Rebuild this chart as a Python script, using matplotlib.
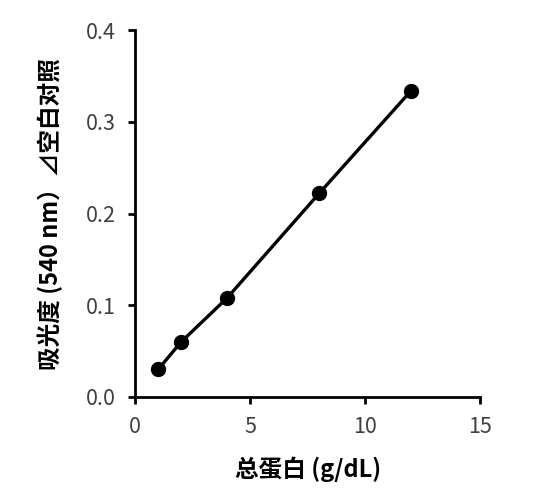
import matplotlib
matplotlib.use('Agg')
import matplotlib.pyplot as plt

plt.rcParams['font.family'] = ['Noto Sans CJK SC', 'DejaVu Sans']

# total protein (g/dL) vs absorbance
protein = [1, 2, 4, 8, 12]
absorbance = [0.030, 0.060, 0.108, 0.222, 0.334]
x_ticks = [0, 5, 10, 15]
y_ticks = [0.0, 0.1, 0.2, 0.3, 0.4]

fig = plt.figure(figsize=(5.34, 5.01), dpi=100)
ax = fig.add_axes([0.253, 0.2076, 0.646, 0.732])

ax.plot(protein, absorbance, color='black', linewidth=2.4,
        marker='o', markersize=10)

ax.set_xlim(0, 15)
ax.set_ylim(0, 0.4)
ax.set_xticks(x_ticks)
ax.set_yticks(y_ticks)
ax.set_yticklabels(['%.1f' % v for v in y_ticks])

for s in ['top', 'right']:
    ax.spines[s].set_visible(False)
for s in ['left', 'bottom']:
    ax.spines[s].set_linewidth(2.0)
ax.tick_params(direction='out', length=5, width=2.0, labelsize=15.5,
               labelcolor='#404040', pad=9)

ax.set_xlabel('总蛋白 (g/dL)', fontsize=17, fontweight='bold', labelpad=13)
ax.set_ylabel('吸光度 (540 nm）⊿空白对照', fontsize=17, fontweight='bold',
              labelpad=16)

fig.savefig('out.png', dpi=100)
